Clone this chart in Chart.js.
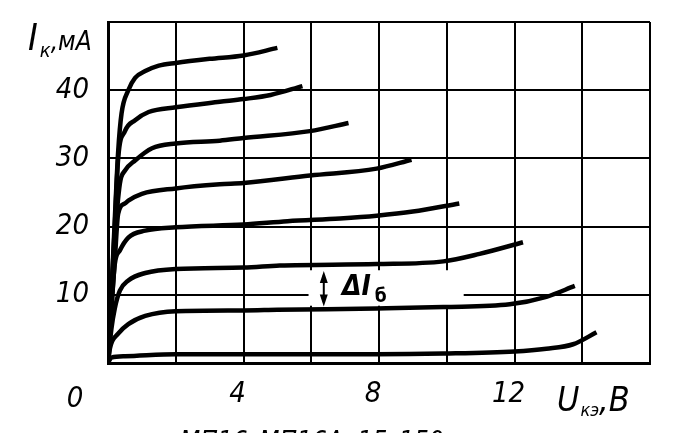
<!DOCTYPE html>
<html lang="ru">
<head>
<meta charset="UTF-8">
<title>Выходные характеристики транзистора</title>
<style>
  body { margin: 0; background: #fff; }
  canvas { display: block; }
</style>
</head>
<body>
<canvas id="chart" width="685" height="433"></canvas>
<script src="https://cdn.jsdelivr.net/npm/chart.js"></script>
<script>
// collector voltage U (V) and collector current I (mA), one pair of arrays per base current step
const uCurve1 = [0, 0.1, 0.2, 0.3, 0.4, 0.6, 0.8, 1.1, 1.5, 2, 3, 4, 5];
const iCurve1 = [0, 10, 21, 31, 36.6, 40, 41.8, 42.8, 43.6, 44, 44.6, 45.1, 46.2];
const uCurve2 = [0, 0.1, 0.2, 0.3, 0.5, 0.8, 1.2, 2, 3.3, 4, 4.8, 5.74];
const iCurve2 = [0, 10, 20, 30, 34, 35.6, 36.8, 37.5, 38.3, 38.7, 39.3, 40.6];
const uCurve3 = [0, 0.1, 0.2, 0.35, 0.5, 0.8, 1.3, 2, 3.3, 4, 5.96, 7.1];
const iCurve3 = [0, 9, 18, 26.3, 28.2, 29.7, 31.5, 32.2, 32.6, 33, 34, 35.2];
const uCurve4 = [0, 0.1, 0.2, 0.3, 0.5, 0.6, 1, 2, 3.3, 4, 5.96, 7.93, 8.96];
const iCurve4 = [0, 8, 15, 21.9, 23.4, 23.8, 24.8, 25.6, 26.2, 26.4, 27.5, 28.5, 29.8];
const uCurve5 = [0, 0.1, 0.2, 0.35, 0.6, 1.1, 2, 4, 5.3, 6.85, 7.93, 9, 10.37];
const iCurve5 = [0, 8, 14.5, 16.5, 18.4, 19.4, 19.9, 20.3, 20.8, 21.2, 21.6, 22.2, 23.4];
const uCurve6 = [0, 0.1, 0.2, 0.35, 0.6, 1.1, 2, 4, 5.07, 7.93, 9.9, 10.97, 12.25];
const iCurve6 = [0, 5, 8, 10.6, 12.1, 13.2, 13.8, 14, 14.3, 14.5, 14.9, 16, 17.7];
const uCurve7 = [0, 0.06, 0.3, 0.6, 1.1, 2, 4, 5, 7.93, 9.9, 11.86, 12.94, 13.78];
const iCurve7 = [0, 2.2, 4.3, 5.7, 6.9, 7.6, 7.7, 7.8, 8, 8.2, 8.6, 9.7, 11.3];
const uCurve8 = [0, 0.1, 0.5, 2, 7.93, 9.9, 12, 12.94, 13.73, 14.42];
const iCurve8 = [0, 0.8, 1, 1.3, 1.3, 1.4, 1.7, 2.1, 2.75, 4.5];

const xTickLabels = [4, 8, 12];
const yTickLabels = [10, 20, 30, 40];

const FONT = '"DejaVu Sans Condensed", "DejaVu Sans", sans-serif';

const curves = [
    [uCurve1, iCurve1], [uCurve2, iCurve2], [uCurve3, iCurve3], [uCurve4, iCurve4],
    [uCurve5, iCurve5], [uCurve6, iCurve6], [uCurve7, iCurve7], [uCurve8, iCurve8]
];

const datasets = curves.map(([u, i]) => ({
    data: u.map((v, k) => ({ x: v, y: i[k] })),
    showLine: true,
    borderColor: '#000',
    borderWidth: 4.5,
    pointRadius: 0,
    cubicInterpolationMode: 'monotone',
    fill: false
}));

// text labels, the delta arrow and the clear patch behind it
const notes = {
    id: 'notes',
    beforeDatasetsDraw(chart) {
        const { ctx, scales: { x, y } } = chart;
        ctx.save();
        ctx.fillStyle = '#fff';
        const l = x.getPixelForValue(5.92), r = x.getPixelForValue(10.5);
        const t = y.getPixelForValue(13.6), b = y.getPixelForValue(8.4);
        ctx.fillRect(l, t, r - l, b - t);
        ctx.restore();
    },
    afterDraw(chart) {
        const { ctx, scales: { x, y } } = chart;
        ctx.save();
        ctx.fillStyle = '#000';
        ctx.strokeStyle = '#000';
        ctx.textBaseline = 'alphabetic';

        // origin label
        ctx.textAlign = 'center';
        ctx.font = 'italic 29px ' + FONT;
        ctx.fillText('0', x.getPixelForValue(0) - 33, 407);

        ctx.textAlign = 'left';
        // y axis title
        let px = 28;
        ctx.font = 'italic 37px ' + FONT;
        ctx.fillText('I', px, 50);
        px += ctx.measureText('I').width + 2;
        ctx.font = 'italic 20px ' + FONT;
        ctx.fillText('к', px, 57);
        px += ctx.measureText('к').width;
        ctx.font = 'italic 26px ' + FONT;
        ctx.fillText(',мА', px, 50);

        // x axis title
        px = 557;
        ctx.font = 'italic 34px ' + FONT;
        ctx.fillText('U', px, 411);
        px += ctx.measureText('U').width + 1;
        ctx.font = 'italic 18px ' + FONT;
        ctx.fillText('кэ', px, 416);
        px += ctx.measureText('кэ').width;
        ctx.font = 'italic 34px ' + FONT;
        ctx.fillText(',В', px, 411);

        // delta I arrow
        const ax = x.getPixelForValue(6.37);
        const a1 = y.getPixelForValue(13.5), a2 = y.getPixelForValue(8.3);
        ctx.lineWidth = 2;
        ctx.beginPath();
        ctx.moveTo(ax, a1 + 4);
        ctx.lineTo(ax, a2 - 4);
        ctx.stroke();
        ctx.beginPath();
        ctx.moveTo(ax, a1); ctx.lineTo(ax - 4, a1 + 12); ctx.lineTo(ax + 4, a1 + 12); ctx.closePath();
        ctx.moveTo(ax, a2); ctx.lineTo(ax - 4, a2 - 12); ctx.lineTo(ax + 4, a2 - 12); ctx.closePath();
        ctx.fill();

        px = 342;
        ctx.font = 'italic bold 28px ' + FONT;
        ctx.fillText('ΔI', px, 295);
        px += ctx.measureText('ΔI').width + 4;
        ctx.font = 'bold 19px ' + FONT;
        ctx.fillText('б', px, 302);

        // caption, cut by the bottom edge
        ctx.font = 'italic 26px ' + FONT;
        ctx.fillText('МП16–МП16А, 15–150', 180, 450);
        ctx.restore();
    }
};

new Chart(document.getElementById('chart'), {
    type: 'scatter',
    data: { datasets },
    options: {
        responsive: false,
        animation: false,
        layout: { padding: { top: 22, right: 35, left: 0, bottom: 0 } },
        plugins: { legend: { display: false }, tooltip: { enabled: false } },
        scales: {
            x: {
                type: 'linear',
                min: 0,
                max: 16,
                afterFit(scale) {
                    scale.height = 70;
                    scale.paddingLeft = 0;
                    scale.paddingRight = 0;
                },
                grid: { color: '#000', lineWidth: 2, drawTicks: false },
                border: { display: true, color: '#000', width: 3 },
                ticks: {
                    stepSize: 2,
                    padding: 14,
                    labelOffset: -6,
                    maxRotation: 0,
                    color: '#000',
                    font: { family: FONT, size: 29, style: 'italic' },
                    callback: v => xTickLabels.includes(v) ? String(v) : ''
                }
            },
            y: {
                type: 'linear',
                min: 0,
                max: 50,
                afterFit(scale) {
                    scale.width = 108;
                    scale.paddingTop = 0;
                    scale.paddingBottom = 0;
                },
                grid: { color: '#000', lineWidth: 2, drawTicks: false },
                border: { display: true, color: '#000', width: 3 },
                ticks: {
                    stepSize: 10,
                    padding: 19,
                    color: '#000',
                    font: { family: FONT, size: 29, style: 'italic' },
                    callback: v => yTickLabels.includes(v) ? String(v) : ''
                }
            }
        }
    },
    plugins: [notes]
});
</script>
</body>
</html>
